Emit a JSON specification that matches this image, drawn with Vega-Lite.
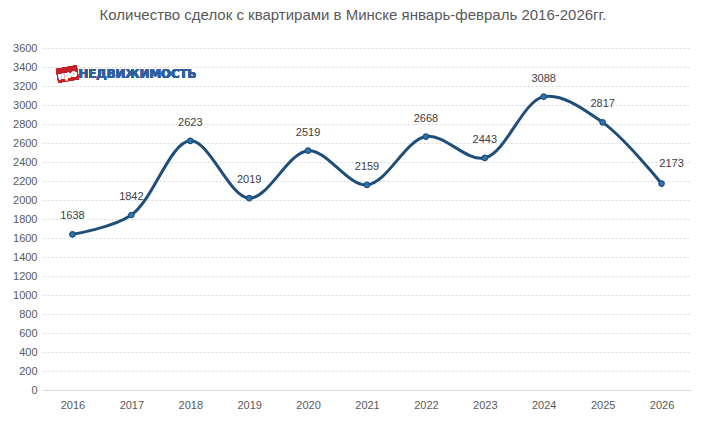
{
  "$schema": "https://vega.github.io/schema/vega-lite/v6.json",
  "width": 648,
  "height": 342,
  "autosize": {"type": "none"},
  "padding": {"left": 43, "top": 48, "right": 15, "bottom": 32},
  "background": "white",
  "title": {
    "text": "Количество сделок с квартирами в Минске январь-февраль  2016-2026гг.",
    "font": "Liberation Sans",
    "fontSize": 15,
    "fontWeight": "normal",
    "color": "#595959",
    "anchor": "middle",
    "dx": -14,
    "offset": 19
  },
  "data": {
    "values": [
      {"year": "2016", "deals": 1638},
      {"year": "2017", "deals": 1842},
      {"year": "2018", "deals": 2623},
      {"year": "2019", "deals": 2019},
      {"year": "2020", "deals": 2519},
      {"year": "2021", "deals": 2159},
      {"year": "2022", "deals": 2668},
      {"year": "2023", "deals": 2443},
      {"year": "2024", "deals": 3088},
      {"year": "2025", "deals": 2817},
      {"year": "2026", "deals": 2173}
    ]
  },
  "config": {
    "view": {"stroke": null},
    "font": "Liberation Sans",
    "axis": {
      "labelFont": "Liberation Sans",
      "labelFontSize": 11,
      "labelColor": "#595959",
      "ticks": false,
      "title": null
    }
  },
  "encoding": {
    "x": {
      "field": "year",
      "type": "ordinal",
      "scale": {"type": "point", "padding": 0.5},
      "axis": {
        "labelAngle": 0,
        "labelPadding": 9,
        "domainColor": "#d9d9d9",
        "domainWidth": 1,
        "grid": false
      }
    },
    "y": {
      "field": "deals",
      "type": "quantitative",
      "scale": {"domain": [0, 3600], "nice": false},
      "axis": {
        "values": [0, 200, 400, 600, 800, 1000, 1200, 1400, 1600, 1800, 2000, 2200, 2400, 2600, 2800, 3000, 3200, 3400, 3600],
        "format": "d",
        "domain": false,
        "labelPadding": 6,
        "gridColor": "#d9d9d9",
        "gridDash": [2, 2],
        "gridWidth": 1
      }
    }
  },
  "layer": [
    {
      "mark": {"type": "line", "interpolate": "catmull-rom", "color": "#1f4e79", "strokeWidth": 3}
    },
    {
      "mark": {"type": "point", "filled": true, "size": 30, "color": "#2e75b6", "stroke": "#1f4e79", "strokeWidth": 1.2, "opacity": 1}
    },
    {
      "transform": [{"filter": "datum.year != '2026'"}],
      "mark": {"type": "text", "dy": -18, "fontSize": 11, "color": "#404040"},
      "encoding": {"text": {"field": "deals", "type": "quantitative"}}
    },
    {
      "transform": [{"filter": "datum.year == '2026'"}],
      "mark": {"type": "text", "dx": 10, "dy": -20, "fontSize": 11, "color": "#404040"},
      "encoding": {"text": {"field": "deals", "type": "quantitative"}}
    },
    {
      "mark": {"type": "point", "shape": "M-1,-0.67L1,-0.67L1,0.67L-1,0.67Z", "filled": true, "size": 441, "color": "#c8202b", "angle": -10, "opacity": 1},
      "encoding": {
        "x": {"datum": "2016"},
        "y": {"datum": 3326},
        "xOffset": {"value": -5}
      }
    },
    {
      "mark": {"type": "text", "text": "про", "color": "white", "font": "DejaVu Sans", "fontSize": 9, "fontWeight": "bold", "dx": -5, "angle": -10, "baseline": "middle"},
      "encoding": {"x": {"datum": "2016"}, "y": {"datum": 3326}}
    },
    {
      "mark": {"type": "text", "text": "НЕДВИЖИМОСТЬ", "color": "#2f5f9e", "font": "'Liberation Sans Narrow', 'DejaVu Sans Condensed'", "fontSize": 13, "fontWeight": "bold", "align": "left", "baseline": "middle", "dx": 6, "dy": 0},
      "encoding": {"x": {"datum": "2016"}, "y": {"datum": 3326}}
    }
  ]
}
